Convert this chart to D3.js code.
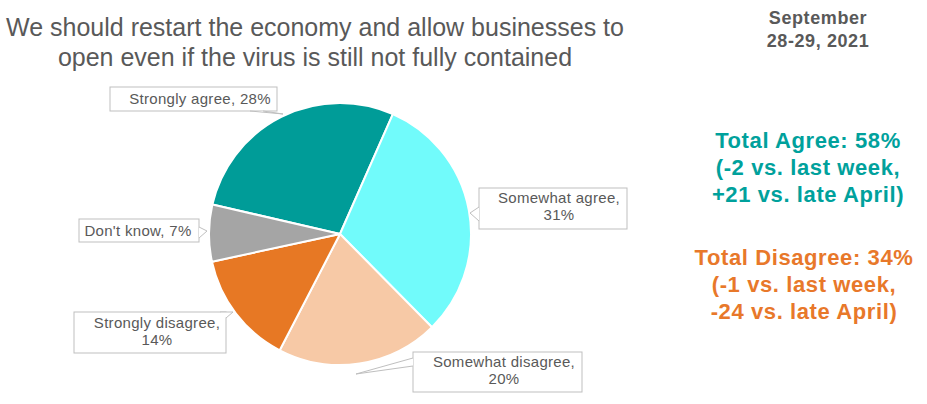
<!DOCTYPE html>
<html><head><meta charset="utf-8">
<script src="https://cdn.jsdelivr.net/npm/d3@7"></script>
<style>body{margin:0;background:#fff}svg{display:block}text{font-family:"Liberation Sans",Arial,sans-serif}</style>
</head><body>
<svg id="c" width="927" height="404"></svg>
<script>
const categories = ["Strongly agree","Somewhat agree","Somewhat disagree","Strongly disagree","Don't know"];
const values = [28,31,20,14,7];
const colors = ["#009C98","#71FBFB","#F7C9A6","#E77824","#A5A5A5"];
const titleLines = ["We should restart the economy and allow businesses to","open even if the virus is still not fully contained"];
const dateLines = ["September","28-29, 2021"];
const agreeLines = ["Total Agree: 58%","(-2 vs. last week,","+21 vs. late April)"];
const disagreeLines = ["Total Disagree: 34%","(-1 vs. last week,","-24 vs. late April)"];
// label callouts: box [x,y,w,h], text lines, pointer [base1, tip, base2]
const labelBoxes = [
  {box:[110,87,167,24], lines:["Strongly agree, 28%"], cx:200, y0:104, ptr:[[250,111],[283,114],[263,111]]},
  {box:[479,188,148,41], lines:["Somewhat agree,","31%"], cx:559, y0:203, ptr:[[479,207],[470,213],[479,221]]},
  {box:[413,352,169,40], lines:["Somewhat disagree,","20%"], cx:504, y0:367, ptr:[[413,358],[356,374],[413,366]]},
  {box:[74,312,152,41], lines:["Strongly disagree,","14%"], cx:157, y0:328, ptr:[[226,318],[233,312],[220,312]]},
  {box:[79,219,120,23], lines:["Don't know, 7%"], cx:138, y0:236, ptr:[[199,227],[207,231],[199,238]]}
];

const svg = d3.select("#c");
const grey = "#595959";

svg.append("g").selectAll("text").data(titleLines).join("text")
  .attr("x",315).attr("y",(d,i)=>36+i*30).attr("text-anchor","middle")
  .attr("font-size",25).attr("fill",grey).text(d=>d);

svg.append("g").selectAll("text").data(dateLines).join("text")
  .attr("x",818).attr("y",(d,i)=>24+i*23).attr("text-anchor","middle")
  .attr("font-size",18).attr("font-weight","bold").attr("letter-spacing",0.6).attr("fill",grey).text(d=>d);

svg.append("g").selectAll("text").data(agreeLines).join("text")
  .attr("x",808).attr("y",(d,i)=>148+i*27).attr("text-anchor","middle")
  .attr("font-size",22).attr("font-weight","bold").attr("letter-spacing",0.6).attr("fill","#00A19C").text(d=>d);
svg.append("g").selectAll("text").data(disagreeLines).join("text")
  .attr("x",804).attr("y",(d,i)=>265+i*27).attr("text-anchor","middle")
  .attr("font-size",22).attr("font-weight","bold").attr("letter-spacing",0.6).attr("fill","#E8782A").text(d=>d);

const cx = 340, cy = 234, r = 131;
const pie = d3.pie().sort(null).startAngle(-77*Math.PI/180).endAngle(283*Math.PI/180);
const arc = d3.arc().innerRadius(0).outerRadius(r);
const arcs = pie(values);
svg.append("g").attr("transform",`translate(${cx},${cy})`)
  .selectAll("path").data(arcs).join("path")
  .attr("d",arc).attr("fill",(d,i)=>colors[i]).attr("stroke","#fff").attr("stroke-width",2).attr("stroke-linejoin","round");

const lg = svg.append("g");
labelBoxes.forEach(L=>{
  const [x,y,w,h] = L.box;
  lg.append("rect").attr("x",x).attr("y",y).attr("width",w).attr("height",h)
    .attr("fill","#fff").attr("stroke","#BFBFBF").attr("stroke-width",1);
  lg.append("path").attr("d",d3.line()(L.ptr)).attr("fill","#fff").attr("stroke","#BFBFBF").attr("stroke-width",1);
  L.lines.forEach((t,i)=>{
    lg.append("text").attr("x",L.cx).attr("y",L.y0+i*17).attr("text-anchor","middle")
      .attr("font-size",15).attr("letter-spacing",0.3).attr("fill",grey).text(t);
  });
});
</script>
</body></html>
